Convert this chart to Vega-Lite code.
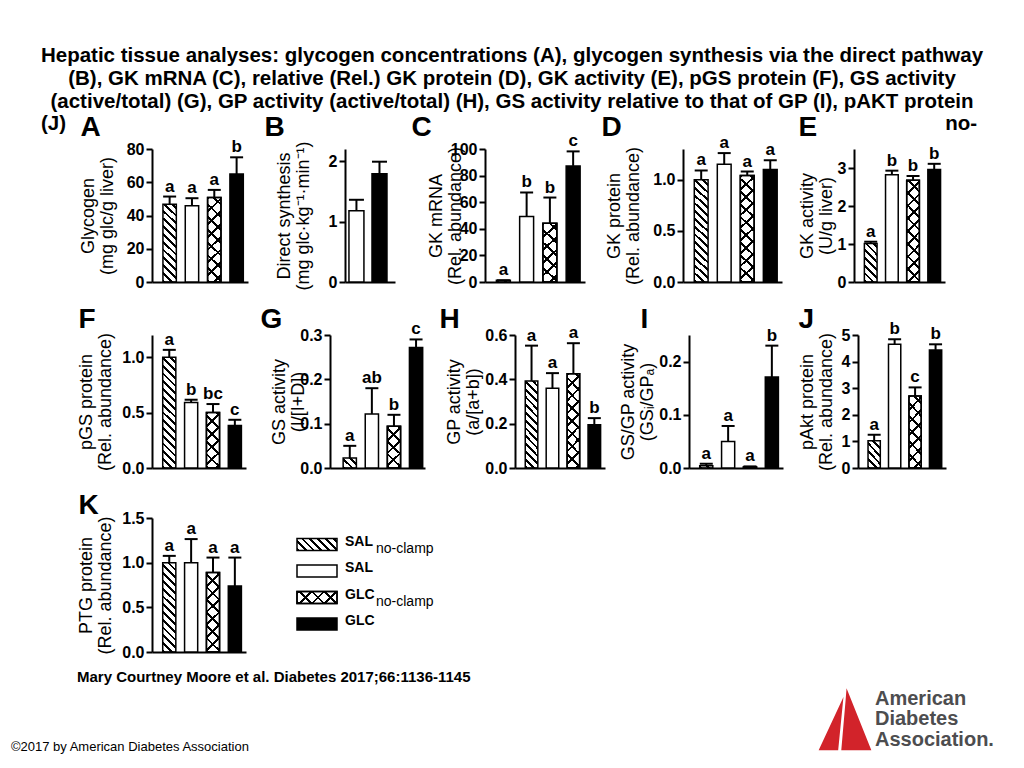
{
 "$schema": "https://vega.github.io/schema/vega-lite/v6.json",
 "padding": {"left": 10, "top": 45, "right": 0, "bottom": 0},
 "background": "white",
 "params": [
  {"name": "hs", "value": [
   {"offset":0,"color":"#000"},{"offset":0.018,"color":"#000"},{"offset":0.018,"color":"transparent"},{"offset":0.05,"color":"transparent"},
   {"offset":0.05,"color":"#000"},{"offset":0.068,"color":"#000"},{"offset":0.068,"color":"transparent"},{"offset":0.1,"color":"transparent"},
   {"offset":0.1,"color":"#000"},{"offset":0.118,"color":"#000"},{"offset":0.118,"color":"transparent"},{"offset":0.15,"color":"transparent"},
   {"offset":0.15,"color":"#000"},{"offset":0.168,"color":"#000"},{"offset":0.168,"color":"transparent"},{"offset":0.2,"color":"transparent"},
   {"offset":0.2,"color":"#000"},{"offset":0.218,"color":"#000"},{"offset":0.218,"color":"transparent"},{"offset":0.25,"color":"transparent"},
   {"offset":0.25,"color":"#000"},{"offset":0.268,"color":"#000"},{"offset":0.268,"color":"transparent"},{"offset":0.3,"color":"transparent"},
   {"offset":0.3,"color":"#000"},{"offset":0.318,"color":"#000"},{"offset":0.318,"color":"transparent"},{"offset":0.35,"color":"transparent"},
   {"offset":0.35,"color":"#000"},{"offset":0.368,"color":"#000"},{"offset":0.368,"color":"transparent"},{"offset":0.4,"color":"transparent"},
   {"offset":0.4,"color":"#000"},{"offset":0.418,"color":"#000"},{"offset":0.418,"color":"transparent"},{"offset":0.45,"color":"transparent"},
   {"offset":0.45,"color":"#000"},{"offset":0.468,"color":"#000"},{"offset":0.468,"color":"transparent"},{"offset":0.5,"color":"transparent"},
   {"offset":0.5,"color":"#000"},{"offset":0.518,"color":"#000"},{"offset":0.518,"color":"transparent"},{"offset":0.55,"color":"transparent"},
   {"offset":0.55,"color":"#000"},{"offset":0.568,"color":"#000"},{"offset":0.568,"color":"transparent"},{"offset":0.6,"color":"transparent"},
   {"offset":0.6,"color":"#000"},{"offset":0.618,"color":"#000"},{"offset":0.618,"color":"transparent"},{"offset":0.65,"color":"transparent"},
   {"offset":0.65,"color":"#000"},{"offset":0.668,"color":"#000"},{"offset":0.668,"color":"transparent"},{"offset":0.7,"color":"transparent"},
   {"offset":0.7,"color":"#000"},{"offset":0.718,"color":"#000"},{"offset":0.718,"color":"transparent"},{"offset":0.75,"color":"transparent"},
   {"offset":0.75,"color":"#000"},{"offset":0.768,"color":"#000"},{"offset":0.768,"color":"transparent"},{"offset":0.8,"color":"transparent"},
   {"offset":0.8,"color":"#000"},{"offset":0.818,"color":"#000"},{"offset":0.818,"color":"transparent"},{"offset":0.85,"color":"transparent"},
   {"offset":0.85,"color":"#000"},{"offset":0.868,"color":"#000"},{"offset":0.868,"color":"transparent"},{"offset":0.9,"color":"transparent"},
   {"offset":0.9,"color":"#000"},{"offset":0.918,"color":"#000"},{"offset":0.918,"color":"transparent"},{"offset":0.95,"color":"transparent"},
   {"offset":0.95,"color":"#000"},{"offset":0.968,"color":"#000"},{"offset":0.968,"color":"transparent"},{"offset":1,"color":"transparent"}
  ]},
  {"name": "cs", "value": [
   {"offset":0,"color":"#000"},{"offset":0.018,"color":"#000"},{"offset":0.018,"color":"transparent"},{"offset":0.0833,"color":"transparent"},
   {"offset":0.0833,"color":"#000"},{"offset":0.1013,"color":"#000"},{"offset":0.1013,"color":"transparent"},{"offset":0.1667,"color":"transparent"},
   {"offset":0.1667,"color":"#000"},{"offset":0.1847,"color":"#000"},{"offset":0.1847,"color":"transparent"},{"offset":0.25,"color":"transparent"},
   {"offset":0.25,"color":"#000"},{"offset":0.268,"color":"#000"},{"offset":0.268,"color":"transparent"},{"offset":0.3333,"color":"transparent"},
   {"offset":0.3333,"color":"#000"},{"offset":0.3513,"color":"#000"},{"offset":0.3513,"color":"transparent"},{"offset":0.4167,"color":"transparent"},
   {"offset":0.4167,"color":"#000"},{"offset":0.4347,"color":"#000"},{"offset":0.4347,"color":"transparent"},{"offset":0.5,"color":"transparent"},
   {"offset":0.5,"color":"#000"},{"offset":0.518,"color":"#000"},{"offset":0.518,"color":"transparent"},{"offset":0.5833,"color":"transparent"},
   {"offset":0.5833,"color":"#000"},{"offset":0.6013,"color":"#000"},{"offset":0.6013,"color":"transparent"},{"offset":0.6667,"color":"transparent"},
   {"offset":0.6667,"color":"#000"},{"offset":0.6847,"color":"#000"},{"offset":0.6847,"color":"transparent"},{"offset":0.75,"color":"transparent"},
   {"offset":0.75,"color":"#000"},{"offset":0.768,"color":"#000"},{"offset":0.768,"color":"transparent"},{"offset":0.8333,"color":"transparent"},
   {"offset":0.8333,"color":"#000"},{"offset":0.8513,"color":"#000"},{"offset":0.8513,"color":"transparent"},{"offset":0.9167,"color":"transparent"},
   {"offset":0.9167,"color":"#000"},{"offset":0.9347,"color":"#000"},{"offset":0.9347,"color":"transparent"},{"offset":1,"color":"transparent"}
  ]}
 ],
 "datasets": {
  "dA": [{"group":"SAL_nc","mean":46.8,"upper":51.4,"sig":"a"},{"group":"SAL","mean":45.8,"upper":50.4,"sig":"a"},{"group":"GLC_nc","mean":50.8,"upper":55.4,"sig":"a"},{"group":"GLC","mean":64.9,"upper":75,"sig":"b"}],
  "dB": [{"group":"SAL","mean":1.18,"upper":1.36,"sig":""},{"group":"GLC","mean":1.79,"upper":1.99,"sig":""}],
  "dC": [{"group":"SAL_nc","mean":1.3,"upper":1.3,"sig":"a"},{"group":"SAL","mean":49.2,"upper":67.3,"sig":"b"},{"group":"GLC_nc","mean":44.2,"upper":63.5,"sig":"b"},{"group":"GLC","mean":87.3,"upper":98.2,"sig":"c"}],
  "dD": [{"group":"SAL_nc","mean":1.0,"upper":1.09,"sig":"a"},{"group":"SAL","mean":1.15,"upper":1.26,"sig":"a"},{"group":"GLC_nc","mean":1.04,"upper":1.08,"sig":"a"},{"group":"GLC","mean":1.1,"upper":1.19,"sig":"a"}],
  "dE": [{"group":"SAL_nc","mean":1.01,"upper":1.06,"sig":"a"},{"group":"SAL","mean":2.82,"upper":2.93,"sig":"b"},{"group":"GLC_nc","mean":2.68,"upper":2.79,"sig":"b"},{"group":"GLC","mean":2.96,"upper":3.11,"sig":"b"}],
  "dF": [{"group":"SAL_nc","mean":1.0,"upper":1.066,"sig":"a"},{"group":"SAL","mean":0.592,"upper":0.616,"sig":"b"},{"group":"GLC_nc","mean":0.5,"upper":0.577,"sig":"bc"},{"group":"GLC","mean":0.384,"upper":0.435,"sig":"c"}],
  "dG": [{"group":"SAL_nc","mean":0.0225,"upper":0.05,"sig":"a"},{"group":"SAL","mean":0.122,"upper":0.18,"sig":"ab"},{"group":"GLC_nc","mean":0.094,"upper":0.12,"sig":"b"},{"group":"GLC","mean":0.272,"upper":0.29,"sig":"c"}],
  "dH": [{"group":"SAL_nc","mean":0.393,"upper":0.552,"sig":"a"},{"group":"SAL","mean":0.36,"upper":0.428,"sig":"a"},{"group":"GLC_nc","mean":0.425,"upper":0.563,"sig":"a"},{"group":"GLC","mean":0.195,"upper":0.225,"sig":"b"}],
  "dI": [{"group":"SAL_nc","mean":0.004,"upper":0.008,"sig":"a"},{"group":"SAL","mean":0.05,"upper":0.079,"sig":"a"},{"group":"GLC_nc","mean":0.002,"upper":0.003,"sig":"a"},{"group":"GLC","mean":0.171,"upper":0.23,"sig":"b"}],
  "dJ": [{"group":"SAL_nc","mean":1.02,"upper":1.25,"sig":"a"},{"group":"SAL","mean":4.65,"upper":4.84,"sig":"b"},{"group":"GLC_nc","mean":2.71,"upper":3.03,"sig":"c"},{"group":"GLC","mean":4.44,"upper":4.65,"sig":"b"}],
  "dK": [{"group":"SAL_nc","mean":1.0,"upper":1.076,"sig":"a"},{"group":"SAL","mean":1.0,"upper":1.264,"sig":"a"},{"group":"GLC_nc","mean":0.889,"upper":1.057,"sig":"a"},{"group":"GLC","mean":0.739,"upper":1.057,"sig":"a"}],
  "leg": [{"group":"SAL_nc","main":"SAL","sub":"no-clamp"},{"group":"SAL","main":"SAL","sub":""},{"group":"GLC_nc","main":"GLC","sub":"no-clamp"},{"group":"GLC","main":"GLC","sub":""}],
  "logo": [{"line":"American"},{"line":"Diabetes"},{"line":"Association."}]
 },
 "title": {"text": "©2017 by American Diabetes Association", "orient": "bottom", "anchor": "start", "frame": "bounds", "dx": -30, "offset": -9, "fontSize": 13, "fontWeight": "normal", "color": "#000", "font": "Liberation Sans"},
 "vconcat": [
 {
 "title": {"text": "no-", "anchor": "end", "frame": "bounds", "dx": -18, "offset": -89, "fontSize": 20.5, "fontWeight": "bold", "color": "#000", "font": "Liberation Sans"},
 "vconcat": [
 {
 "title": {"text": "(J)", "anchor": "start", "frame": "bounds", "offset": -89, "fontSize": 20.5, "fontWeight": "bold", "color": "#000", "font": "Liberation Sans"},
 "vconcat": [
  {
   "title": {"text": ["Hepatic tissue analyses: glycogen concentrations (A), glycogen synthesis via the direct pathway", "(B), GK mRNA (C), relative (Rel.) GK protein (D), GK activity (E), pGS protein (F), GS activity", "(active/total) (G), GP activity (active/total) (H), GS activity relative to that of GP (I), pAKT protein"], "fontSize": 20.5, "fontWeight": "bold", "lineHeight": 23, "anchor": "start", "frame": "bounds", "align": "center", "dx": 435, "offset": 1, "color": "#000", "font": "Liberation Sans"},
   "spacing": 15,
   "vconcat": [
  {
   "spacing": 16,
   "hconcat": [
    {"width":96,"height":133,"data":{"name":"dA"},
     "encoding":{
      "x":{"field":"group","type":"nominal","scale":{"domain":["SAL_nc","SAL","GLC_nc","GLC"],"paddingInner":0.4,"paddingOuter":0.35,"align":0.7},"axis":{"title":"A","titleX":-72,"titleY":-147}},
      "y":{"field":"mean","type":"quantitative","scale":{"domain":[0,80],"nice":false},"axis":{"title":["Glycogen","(mg glc/g liver)"],"values":[0,20,40,60,80],"titleX":-73,"titleY":66.5}}},
     "layer":[
      {"mark":{"type":"bar","stroke":"#000","strokeWidth":1.5,"fill":{"expr":"datum.group==='GLC'?'#000':datum.group==='SAL'?'#fff':datum.group==='SAL_nc'?{gradient:'linear',x1:0,y1:1,x2:2022.8/(169+pow(datum.mean*1.6625,2)),y2:1-155.56*datum.mean*1.6625/(169+pow(datum.mean*1.6625,2)),stops:hs}:{gradient:'linear',x1:0,y1:1,x2:1985.5/(169+pow(datum.mean*1.6625,2)),y2:1-152.73*datum.mean*1.6625/(169+pow(datum.mean*1.6625,2)),stops:cs}"}}},
      {"transform":[{"filter":"datum.group==='GLC_nc'"}],"mark":{"type":"bar","stroke":"#000","strokeWidth":1.5,"fill":{"expr":"{gradient:'linear',x1:0,y1:0,x2:1985.5/(169+pow(datum.mean*1.6625,2)),y2:152.73*datum.mean*1.6625/(169+pow(datum.mean*1.6625,2)),stops:cs}"}}},
      {"mark":{"type":"rule","color":"#000","strokeWidth":2},"encoding":{"y2":{"field":"upper"}}},
      {"mark":{"type":"tick","color":"#000","thickness":2,"size":13,"opacity":1},"encoding":{"y":{"field":"upper","type":"quantitative"}}},
      {"mark":{"type":"text","baseline":"alphabetic","dy":-5,"fontSize":17,"fontWeight":"bold","color":"#000"},"encoding":{"y":{"field":"upper","type":"quantitative"},"text":{"field":"sig"}}}
     ]},
    {"width":50,"height":133,"data":{"name":"dB"},
     "encoding":{
      "x":{"field":"group","type":"nominal","scale":{"domain":["SAL","GLC"],"paddingInner":0.35,"paddingOuter":0.26,"align":0.33},"axis":{"title":"B","titleX":-81,"titleY":-147}},
      "y":{"field":"mean","type":"quantitative","scale":{"domain":[0,2.2],"nice":false},"axis":{"title":["Direct synthesis","(mg glc·kg⁻¹·min⁻¹)"],"values":[0,1,2],"titleX":-70,"titleY":66.5}}},
     "layer":[
      {"mark":{"type":"bar","stroke":"#000","strokeWidth":1.5,"fill":{"expr":"datum.group==='GLC'?'#000':'#fff'"}}},
      {"mark":{"type":"rule","color":"#000","strokeWidth":2},"encoding":{"y2":{"field":"upper"}}},
      {"mark":{"type":"tick","color":"#000","thickness":2,"size":15,"opacity":1},"encoding":{"y":{"field":"upper","type":"quantitative"}}},
      {"data":{"values":[{}]},"mark":{"type":"text","text":"P=0.08","align":"left","baseline":"middle","fontStyle":"italic","fontWeight":"bold","fontSize":17,"dx":-8,"color":"#000"},"encoding":{"x":{"datum":"SAL"},"y":{"datum":2.13}}}
     ]},
    {"width":100,"height":133,"data":{"name":"dC"},
     "encoding":{
      "x":{"field":"group","type":"nominal","scale":{"domain":["SAL_nc","SAL","GLC_nc","GLC"],"paddingInner":0.4,"paddingOuter":0.35,"align":0.7},"axis":{"title":"C","titleX":-74,"titleY":-147}},
      "y":{"field":"mean","type":"quantitative","scale":{"domain":[0,100],"nice":false},"axis":{"title":["GK mRNA","(Rel. abundance)"],"values":[0,20,40,60,80,100],"titleX":-58,"titleY":66.5}}},
     "layer":[
      {"mark":{"type":"bar","stroke":"#000","strokeWidth":1.5,"fill":{"expr":"datum.group==='GLC'?'#000':datum.group==='SAL'?'#fff':datum.group==='SAL_nc'?{gradient:'linear',x1:0,y1:1,x2:2022.8/(169+pow(datum.mean*1.33,2)),y2:1-155.56*datum.mean*1.33/(169+pow(datum.mean*1.33,2)),stops:hs}:{gradient:'linear',x1:0,y1:1,x2:1985.5/(169+pow(datum.mean*1.33,2)),y2:1-152.73*datum.mean*1.33/(169+pow(datum.mean*1.33,2)),stops:cs}"}}},
      {"transform":[{"filter":"datum.group==='GLC_nc'"}],"mark":{"type":"bar","stroke":"#000","strokeWidth":1.5,"fill":{"expr":"{gradient:'linear',x1:0,y1:0,x2:1985.5/(169+pow(datum.mean*1.33,2)),y2:152.73*datum.mean*1.33/(169+pow(datum.mean*1.33,2)),stops:cs}"}}},
      {"mark":{"type":"rule","color":"#000","strokeWidth":2},"encoding":{"y2":{"field":"upper"}}},
      {"mark":{"type":"tick","color":"#000","thickness":2,"size":13,"opacity":1},"encoding":{"y":{"field":"upper","type":"quantitative"}}},
      {"mark":{"type":"text","baseline":"alphabetic","dy":-5,"fontSize":17,"fontWeight":"bold","color":"#000"},"encoding":{"y":{"field":"upper","type":"quantitative"},"text":{"field":"sig"}}}
     ]},
    {"width":99,"height":133,"data":{"name":"dD"},
     "encoding":{
      "x":{"field":"group","type":"nominal","scale":{"domain":["SAL_nc","SAL","GLC_nc","GLC"],"paddingInner":0.4,"paddingOuter":0.35,"align":0.7},"axis":{"title":"D","titleX":-82,"titleY":-147}},
      "y":{"field":"mean","type":"quantitative","scale":{"domain":[0,1.3],"nice":false},"axis":{"title":["GK protein","(Rel. abundance)"],"values":[0,0.5,1],"format":".1f","titleX":-78,"titleY":66.5}}},
     "layer":[
      {"mark":{"type":"bar","stroke":"#000","strokeWidth":1.5,"fill":{"expr":"datum.group==='GLC'?'#000':datum.group==='SAL'?'#fff':datum.group==='SAL_nc'?{gradient:'linear',x1:0,y1:1,x2:2022.8/(169+pow(datum.mean*102.31,2)),y2:1-155.56*datum.mean*102.31/(169+pow(datum.mean*102.31,2)),stops:hs}:{gradient:'linear',x1:0,y1:1,x2:1985.5/(169+pow(datum.mean*102.31,2)),y2:1-152.73*datum.mean*102.31/(169+pow(datum.mean*102.31,2)),stops:cs}"}}},
      {"transform":[{"filter":"datum.group==='GLC_nc'"}],"mark":{"type":"bar","stroke":"#000","strokeWidth":1.5,"fill":{"expr":"{gradient:'linear',x1:0,y1:0,x2:1985.5/(169+pow(datum.mean*102.31,2)),y2:152.73*datum.mean*102.31/(169+pow(datum.mean*102.31,2)),stops:cs}"}}},
      {"mark":{"type":"rule","color":"#000","strokeWidth":2},"encoding":{"y2":{"field":"upper"}}},
      {"mark":{"type":"tick","color":"#000","thickness":2,"size":13,"opacity":1},"encoding":{"y":{"field":"upper","type":"quantitative"}}},
      {"mark":{"type":"text","baseline":"alphabetic","dy":-5,"fontSize":17,"fontWeight":"bold","color":"#000"},"encoding":{"y":{"field":"upper","type":"quantitative"},"text":{"field":"sig"}}}
     ]},
    {"width":91,"height":133,"data":{"name":"dE"},
     "encoding":{
      "x":{"field":"group","type":"nominal","scale":{"domain":["SAL_nc","SAL","GLC_nc","GLC"],"paddingInner":0.4,"paddingOuter":0.35,"align":0.7},"axis":{"title":"E","titleX":-56,"titleY":-147}},
      "y":{"field":"mean","type":"quantitative","scale":{"domain":[0,3.5],"nice":false},"axis":{"title":["GK activity","(U/g liver)"],"values":[0,1,2,3],"titleX":-56,"titleY":66.5}}},
     "layer":[
      {"mark":{"type":"bar","stroke":"#000","strokeWidth":1.5,"fill":{"expr":"datum.group==='GLC'?'#000':datum.group==='SAL'?'#fff':datum.group==='SAL_nc'?{gradient:'linear',x1:0,y1:1,x2:2022.8/(169+pow(datum.mean*38,2)),y2:1-155.56*datum.mean*38/(169+pow(datum.mean*38,2)),stops:hs}:{gradient:'linear',x1:0,y1:1,x2:1985.5/(169+pow(datum.mean*38,2)),y2:1-152.73*datum.mean*38/(169+pow(datum.mean*38,2)),stops:cs}"}}},
      {"transform":[{"filter":"datum.group==='GLC_nc'"}],"mark":{"type":"bar","stroke":"#000","strokeWidth":1.5,"fill":{"expr":"{gradient:'linear',x1:0,y1:0,x2:1985.5/(169+pow(datum.mean*38,2)),y2:152.73*datum.mean*38/(169+pow(datum.mean*38,2)),stops:cs}"}}},
      {"mark":{"type":"rule","color":"#000","strokeWidth":2},"encoding":{"y2":{"field":"upper"}}},
      {"mark":{"type":"tick","color":"#000","thickness":2,"size":13,"opacity":1},"encoding":{"y":{"field":"upper","type":"quantitative"}}},
      {"mark":{"type":"text","baseline":"alphabetic","dy":-5,"fontSize":17,"fontWeight":"bold","color":"#000"},"encoding":{"y":{"field":"upper","type":"quantitative"},"text":{"field":"sig"}}}
     ]}
   ]
  },
  {
   "spacing": 14,
   "hconcat": [
    {"width":94,"height":133,"data":{"name":"dF"},
     "encoding":{
      "x":{"field":"group","type":"nominal","scale":{"domain":["SAL_nc","SAL","GLC_nc","GLC"],"paddingInner":0.4,"paddingOuter":0.35,"align":0.7},"axis":{"title":"F","titleX":-74,"titleY":-141}},
      "y":{"field":"mean","type":"quantitative","scale":{"domain":[0,1.2],"nice":false},"axis":{"title":["pGS protein","(Rel. abundance)"],"values":[0,0.5,1],"format":".1f","titleX":-75,"titleY":66.5}}},
     "layer":[
      {"mark":{"type":"bar","stroke":"#000","strokeWidth":1.5,"fill":{"expr":"datum.group==='GLC'?'#000':datum.group==='SAL'?'#fff':datum.group==='SAL_nc'?{gradient:'linear',x1:0,y1:1,x2:2022.8/(169+pow(datum.mean*110.83,2)),y2:1-155.56*datum.mean*110.83/(169+pow(datum.mean*110.83,2)),stops:hs}:{gradient:'linear',x1:0,y1:1,x2:1985.5/(169+pow(datum.mean*110.83,2)),y2:1-152.73*datum.mean*110.83/(169+pow(datum.mean*110.83,2)),stops:cs}"}}},
      {"transform":[{"filter":"datum.group==='GLC_nc'"}],"mark":{"type":"bar","stroke":"#000","strokeWidth":1.5,"fill":{"expr":"{gradient:'linear',x1:0,y1:0,x2:1985.5/(169+pow(datum.mean*110.83,2)),y2:152.73*datum.mean*110.83/(169+pow(datum.mean*110.83,2)),stops:cs}"}}},
      {"mark":{"type":"rule","color":"#000","strokeWidth":2},"encoding":{"y2":{"field":"upper"}}},
      {"mark":{"type":"tick","color":"#000","thickness":2,"size":13,"opacity":1},"encoding":{"y":{"field":"upper","type":"quantitative"}}},
      {"mark":{"type":"text","baseline":"alphabetic","dy":-5,"fontSize":17,"fontWeight":"bold","color":"#000"},"encoding":{"y":{"field":"upper","type":"quantitative"},"text":{"field":"sig"}}}
     ]},
    {"width":95,"height":133,"data":{"name":"dG"},
     "encoding":{
      "x":{"field":"group","type":"nominal","scale":{"domain":["SAL_nc","SAL","GLC_nc","GLC"],"paddingInner":0.4,"paddingOuter":0.35,"align":0.85},"axis":{"title":"G","titleX":-70,"titleY":-141}},
      "y":{"field":"mean","type":"quantitative","scale":{"domain":[0,0.3],"nice":false},"axis":{"title":["GS activity","(I/[I+D])"],"values":[0,0.1,0.2,0.3],"format":".1f","titleX":-60,"titleY":66.5}}},
     "layer":[
      {"mark":{"type":"bar","stroke":"#000","strokeWidth":1.5,"fill":{"expr":"datum.group==='GLC'?'#000':datum.group==='SAL'?'#fff':datum.group==='SAL_nc'?{gradient:'linear',x1:0,y1:1,x2:2022.8/(169+pow(datum.mean*443.33,2)),y2:1-155.56*datum.mean*443.33/(169+pow(datum.mean*443.33,2)),stops:hs}:{gradient:'linear',x1:0,y1:1,x2:1985.5/(169+pow(datum.mean*443.33,2)),y2:1-152.73*datum.mean*443.33/(169+pow(datum.mean*443.33,2)),stops:cs}"}}},
      {"transform":[{"filter":"datum.group==='GLC_nc'"}],"mark":{"type":"bar","stroke":"#000","strokeWidth":1.5,"fill":{"expr":"{gradient:'linear',x1:0,y1:0,x2:1985.5/(169+pow(datum.mean*443.33,2)),y2:152.73*datum.mean*443.33/(169+pow(datum.mean*443.33,2)),stops:cs}"}}},
      {"mark":{"type":"rule","color":"#000","strokeWidth":2},"encoding":{"y2":{"field":"upper"}}},
      {"mark":{"type":"tick","color":"#000","thickness":2,"size":13,"opacity":1},"encoding":{"y":{"field":"upper","type":"quantitative"}}},
      {"mark":{"type":"text","baseline":"alphabetic","dy":-5,"fontSize":17,"fontWeight":"bold","color":"#000"},"encoding":{"y":{"field":"upper","type":"quantitative"},"text":{"field":"sig"}}},
      {"data":{"values":[{}]},"mark":{"type":"rule","color":"#000","strokeWidth":1.5},"encoding":{"x":{"datum":"SAL_nc"},"x2":{"datum":"SAL"},"y":{"datum":0.248}}},
      {"data":{"values":[{"group":"SAL_nc"},{"group":"SAL"}]},"mark":{"type":"rule","color":"#000","strokeWidth":1.5},"encoding":{"y":{"datum":0.248},"y2":{"datum":0.228}}},
      {"data":{"values":[{}]},"mark":{"type":"text","text":"P","align":"right","baseline":"middle","fontStyle":"italic","fontWeight":"bold","fontSize":17,"dx":-4,"color":"#000"},"encoding":{"x":{"datum":"SAL_nc"},"y":{"datum":0.264}}},
      {"data":{"values":[{}]},"mark":{"type":"text","text":"=0.08","align":"left","baseline":"middle","fontWeight":"bold","fontSize":17,"dx":-4,"color":"#000"},"encoding":{"x":{"datum":"SAL_nc"},"y":{"datum":0.264}}}
     ]},
    {"width":90,"height":133,"data":{"name":"dH"},
     "encoding":{
      "x":{"field":"group","type":"nominal","scale":{"domain":["SAL_nc","SAL","GLC_nc","GLC"],"paddingInner":0.4,"paddingOuter":0.35,"align":0.7},"axis":{"title":"H","titleX":-76,"titleY":-141}},
      "y":{"field":"mean","type":"quantitative","scale":{"domain":[0,0.6],"nice":false},"axis":{"title":["GP activity","(a/[a+b])"],"values":[0,0.2,0.4,0.6],"format":".1f","titleX":-70,"titleY":66.5}}},
     "layer":[
      {"mark":{"type":"bar","stroke":"#000","strokeWidth":1.5,"fill":{"expr":"datum.group==='GLC'?'#000':datum.group==='SAL'?'#fff':datum.group==='SAL_nc'?{gradient:'linear',x1:0,y1:1,x2:2022.8/(169+pow(datum.mean*221.67,2)),y2:1-155.56*datum.mean*221.67/(169+pow(datum.mean*221.67,2)),stops:hs}:{gradient:'linear',x1:0,y1:1,x2:1985.5/(169+pow(datum.mean*221.67,2)),y2:1-152.73*datum.mean*221.67/(169+pow(datum.mean*221.67,2)),stops:cs}"}}},
      {"transform":[{"filter":"datum.group==='GLC_nc'"}],"mark":{"type":"bar","stroke":"#000","strokeWidth":1.5,"fill":{"expr":"{gradient:'linear',x1:0,y1:0,x2:1985.5/(169+pow(datum.mean*221.67,2)),y2:152.73*datum.mean*221.67/(169+pow(datum.mean*221.67,2)),stops:cs}"}}},
      {"mark":{"type":"rule","color":"#000","strokeWidth":2},"encoding":{"y2":{"field":"upper"}}},
      {"mark":{"type":"tick","color":"#000","thickness":2,"size":13,"opacity":1},"encoding":{"y":{"field":"upper","type":"quantitative"}}},
      {"mark":{"type":"text","baseline":"alphabetic","dy":-5,"fontSize":17,"fontWeight":"bold","color":"#000"},"encoding":{"y":{"field":"upper","type":"quantitative"},"text":{"field":"sig"}}}
     ]},
    {"width":94,"height":133,"data":{"name":"dI"},
     "encoding":{
      "x":{"field":"group","type":"nominal","scale":{"domain":["SAL_nc","SAL","GLC_nc","GLC"],"paddingInner":0.4,"paddingOuter":0.35,"align":0.7},"axis":{"title":"I","titleX":-49,"titleY":-141}},
      "y":{"field":"mean","type":"quantitative","scale":{"domain":[0,0.25],"nice":false},"axis":{"title":["GS/GP activity","(GSᵢ/GPₐ)"],"values":[0,0.1,0.2],"format":".1f","titleX":-70,"titleY":66.5}}},
     "layer":[
      {"mark":{"type":"bar","stroke":"#000","strokeWidth":1.5,"fill":{"expr":"datum.group==='GLC'?'#000':datum.group==='SAL'?'#fff':datum.group==='SAL_nc'?{gradient:'linear',x1:0,y1:1,x2:2022.8/(169+pow(datum.mean*532,2)),y2:1-155.56*datum.mean*532/(169+pow(datum.mean*532,2)),stops:hs}:{gradient:'linear',x1:0,y1:1,x2:1985.5/(169+pow(datum.mean*532,2)),y2:1-152.73*datum.mean*532/(169+pow(datum.mean*532,2)),stops:cs}"}}},
      {"transform":[{"filter":"datum.group==='GLC_nc'"}],"mark":{"type":"bar","stroke":"#000","strokeWidth":1.5,"fill":{"expr":"{gradient:'linear',x1:0,y1:0,x2:1985.5/(169+pow(datum.mean*532,2)),y2:152.73*datum.mean*532/(169+pow(datum.mean*532,2)),stops:cs}"}}},
      {"mark":{"type":"rule","color":"#000","strokeWidth":2},"encoding":{"y2":{"field":"upper"}}},
      {"mark":{"type":"tick","color":"#000","thickness":2,"size":13,"opacity":1},"encoding":{"y":{"field":"upper","type":"quantitative"}}},
      {"mark":{"type":"text","baseline":"alphabetic","dy":-5,"fontSize":17,"fontWeight":"bold","color":"#000"},"encoding":{"y":{"field":"upper","type":"quantitative"},"text":{"field":"sig"}}}
     ]},
    {"width":88,"height":133,"data":{"name":"dJ"},
     "encoding":{
      "x":{"field":"group","type":"nominal","scale":{"domain":["SAL_nc","SAL","GLC_nc","GLC"],"paddingInner":0.4,"paddingOuter":0.35,"align":0.7},"axis":{"title":"J","titleX":-60,"titleY":-141}},
      "y":{"field":"mean","type":"quantitative","scale":{"domain":[0,5],"nice":false},"axis":{"title":["pAkt protein","(Rel. abundance)"],"values":[0,1,2,3,4,5],"titleX":-60,"titleY":66.5}}},
     "layer":[
      {"mark":{"type":"bar","stroke":"#000","strokeWidth":1.5,"fill":{"expr":"datum.group==='GLC'?'#000':datum.group==='SAL'?'#fff':datum.group==='SAL_nc'?{gradient:'linear',x1:0,y1:1,x2:2022.8/(169+pow(datum.mean*26.6,2)),y2:1-155.56*datum.mean*26.6/(169+pow(datum.mean*26.6,2)),stops:hs}:{gradient:'linear',x1:0,y1:1,x2:1985.5/(169+pow(datum.mean*26.6,2)),y2:1-152.73*datum.mean*26.6/(169+pow(datum.mean*26.6,2)),stops:cs}"}}},
      {"transform":[{"filter":"datum.group==='GLC_nc'"}],"mark":{"type":"bar","stroke":"#000","strokeWidth":1.5,"fill":{"expr":"{gradient:'linear',x1:0,y1:0,x2:1985.5/(169+pow(datum.mean*26.6,2)),y2:152.73*datum.mean*26.6/(169+pow(datum.mean*26.6,2)),stops:cs}"}}},
      {"mark":{"type":"rule","color":"#000","strokeWidth":2},"encoding":{"y2":{"field":"upper"}}},
      {"mark":{"type":"tick","color":"#000","thickness":2,"size":13,"opacity":1},"encoding":{"y":{"field":"upper","type":"quantitative"}}},
      {"mark":{"type":"text","baseline":"alphabetic","dy":-5,"fontSize":17,"fontWeight":"bold","color":"#000"},"encoding":{"y":{"field":"upper","type":"quantitative"},"text":{"field":"sig"}}}
     ]}
   ]
  },
  {
   "spacing": 51,
   "bounds": "flush",
   "hconcat": [
    {"width":94,"height":134,"data":{"name":"dK"},
     "title": {"text": "Mary Courtney Moore et al. Diabetes 2017;66:1136-1145", "orient": "bottom", "anchor": "start", "frame": "bounds", "fontSize": 15, "fontWeight": "bold", "offset": 10, "color": "#000", "font": "Liberation Sans"},
     "encoding":{
      "x":{"field":"group","type":"nominal","scale":{"domain":["SAL_nc","SAL","GLC_nc","GLC"],"paddingInner":0.4,"paddingOuter":0.35,"align":0.7},"axis":{"title":"K","titleX":-74,"titleY":-139}},
      "y":{"field":"mean","type":"quantitative","scale":{"domain":[0,1.5],"nice":false},"axis":{"title":["PTG protein","(Rel. abundance)"],"values":[0,0.5,1,1.5],"format":".1f","titleX":-75,"titleY":67}}},
     "layer":[
      {"mark":{"type":"bar","stroke":"#000","strokeWidth":1.5,"fill":{"expr":"datum.group==='GLC'?'#000':datum.group==='SAL'?'#fff':datum.group==='SAL_nc'?{gradient:'linear',x1:0,y1:1,x2:2022.8/(169+pow(datum.mean*89.33,2)),y2:1-155.56*datum.mean*89.33/(169+pow(datum.mean*89.33,2)),stops:hs}:{gradient:'linear',x1:0,y1:1,x2:1985.5/(169+pow(datum.mean*89.33,2)),y2:1-152.73*datum.mean*89.33/(169+pow(datum.mean*89.33,2)),stops:cs}"}}},
      {"transform":[{"filter":"datum.group==='GLC_nc'"}],"mark":{"type":"bar","stroke":"#000","strokeWidth":1.5,"fill":{"expr":"{gradient:'linear',x1:0,y1:0,x2:1985.5/(169+pow(datum.mean*89.33,2)),y2:152.73*datum.mean*89.33/(169+pow(datum.mean*89.33,2)),stops:cs}"}}},
      {"mark":{"type":"rule","color":"#000","strokeWidth":2},"encoding":{"y2":{"field":"upper"}}},
      {"mark":{"type":"tick","color":"#000","thickness":2,"size":13,"opacity":1},"encoding":{"y":{"field":"upper","type":"quantitative"}}},
      {"mark":{"type":"text","baseline":"alphabetic","dy":-5,"fontSize":17,"fontWeight":"bold","color":"#000"},"encoding":{"y":{"field":"upper","type":"quantitative"},"text":{"field":"sig"}}}
     ]},
    {"width":472,"height":132.5,"data":{"name":"leg"},
     "encoding":{"y":{"field":"group","type":"nominal","scale":{"domain":["SAL_nc","SAL","GLC_nc","GLC"],"paddingInner":0.55,"paddingOuter":0.775},"axis":null}},
     "layer":[
      {"mark":{"type":"bar","stroke":"#000","strokeWidth":1.5,"fill":{"expr":"datum.group==='GLC'?'#000':datum.group==='SAL'?'#fff':datum.group==='SAL_nc'?{gradient:'linear',x1:0,y1:1,x2:3.573,y2:-0.063,stops:hs}:{gradient:'linear',x1:0,y1:1,x2:3.508,y2:-0.044,stops:cs}"}},
       "encoding":{"x":{"datum":40,"type":"quantitative","scale":{"domain":[0,472],"nice":false,"zero":true},"axis":null}}},
      {"transform":[{"filter":"datum.group==='GLC_nc'"}],"mark":{"type":"bar","stroke":"#000","strokeWidth":1.5,"fill":{"expr":"{gradient:'linear',x1:0,y1:0,x2:3.508,y2:1.044,stops:cs}"}},
       "encoding":{"x":{"datum":40,"type":"quantitative"}}},
      {"mark":{"type":"text","align":"left","baseline":"middle","fontSize":14,"fontWeight":"bold","dy":-3,"color":"#000"},"encoding":{"x":{"datum":48,"type":"quantitative"},"text":{"field":"main"}}},
      {"transform":[{"filter":"datum.sub !== ''"}],"mark":{"type":"text","align":"left","baseline":"middle","fontSize":14,"dy":4,"color":"#000"},"encoding":{"x":{"datum":79,"type":"quantitative"},"text":{"field":"sub"}}}
     ]},
    {"width":175,"height":232,"data":{"name":"logo"},
     "encoding":{"y":{"field":"line","type":"nominal","scale":{"domain":["American","Diabetes","Association."],"range":[170.5,232],"paddingInner":0,"paddingOuter":0},"axis":null}},
     "layer":[
      {"data":{"values":[{}]},"mark":{"type":"point","shape":"M0.05,-1L0.85,1L-0.12,1L0.02,-0.62Z M-0.05,-0.72L-0.22,1L-0.85,1Z","size":3844,"filled":true,"color":"#d2232a","opacity":1,"strokeWidth":0},
       "encoding":{"x":{"datum":25,"type":"quantitative","scale":{"domain":[0,175],"nice":false},"axis":null},"y":{"datum":"Diabetes"}}},
      {"mark":{"type":"text","align":"left","baseline":"middle","fontSize":20,"fontWeight":"bold","color":"#4d4d4f"},"encoding":{"x":{"datum":55,"type":"quantitative"},"text":{"field":"line"}}}
     ]}
   ]
  }
   ]
  }
 ]
 }
 ]
 }
 ],
 "config": {
  "view": {"stroke": null},
  "font": "Liberation Sans",
  "axis": {"domainColor":"#000","domainWidth":2,"tickColor":"#000","tickWidth":2,"tickSize":6,"labelColor":"#000","labelFont":"Liberation Sans","labelFontSize":16,"labelFontWeight":"bold","labelPadding":2,"titleColor":"#000","titleFont":"Liberation Sans","grid":false},
  "axisX": {"labels":false,"ticks":false,"titleAngle":0,"titleAlign":"left","titleBaseline":"alphabetic","titleFontSize":28,"titleFontWeight":"bold"},
  "axisY": {"titleAngle":270,"titleAlign":"center","titleBaseline":"top","titleFontSize":18,"titleFontWeight":"normal","titleLineHeight":19}
 }
}
